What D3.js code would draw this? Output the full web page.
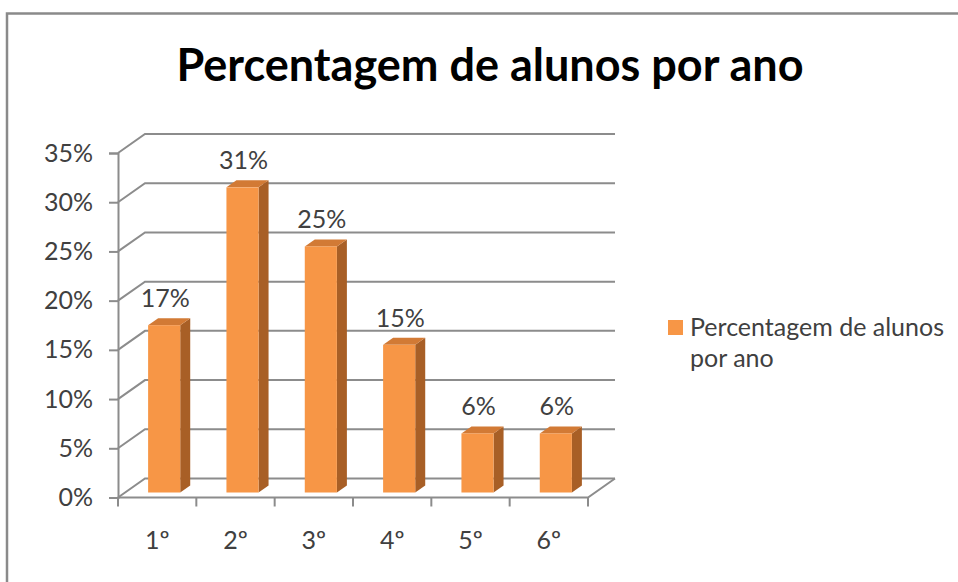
<!DOCTYPE html>
<html>
<head>
<meta charset="utf-8">
<script src="https://cdn.jsdelivr.net/npm/d3@7"></script>
<style>
  html, body { margin: 0; padding: 0; background: #ffffff; }
  svg { display: block; }
  text { font-family: Lato, "Open Sans", sans-serif; fill: #404040; }
</style>
</head>
<body>
<svg id="chart" width="958" height="582"></svg>
<script>
const title = "Percentagem de alunos por ano";
const seriesName = "Percentagem de alunos por ano";
const categories = ["1º", "2º", "3º", "4º", "5º", "6º"];
const values = [0.17, 0.31, 0.25, 0.15, 0.06, 0.06];
const yTicks = [0, 0.05, 0.10, 0.15, 0.20, 0.25, 0.30, 0.35];

const svg = d3.select("#chart");
const W = 958, H = 582;
const FS = 25;

// frame
svg.append("rect").attr("x", 0).attr("y", 0).attr("width", W).attr("height", H).attr("fill", "#ffffff");
svg.append("path")
  .attr("d", `M7,${H} L7,13.5 L${W},13.5`)
  .attr("fill", "none").attr("stroke", "#8a8a8a").attr("stroke-width", 2.5);

// geometry
const x0 = 118, x1 = 588;
const depthX = 27, depthY = -19;      // back wall offset
const barOffX = 7, barOffY = -5;      // bar front offset from floor front
const barDX = 10, barDY = -7;         // bar depth

const x = d3.scaleBand().domain(categories).range([x0, x1]).paddingInner(0.59).paddingOuter(0.295);
const y = d3.scaleLinear().domain([0, 0.35]).range([497.5, 153]);

const grid = svg.append("g").attr("stroke", "#8c8c8c").attr("stroke-width", 2).attr("fill", "none");
yTicks.forEach(t => {
  const yy = y(t);
  grid.append("path")
    .attr("d", `M${x0},${yy} L${x0 + depthX},${yy + depthY} L${x1 + depthX},${yy + depthY}`);
});
grid.append("path").attr("d", `M${x0},${y(0)} L${x1},${y(0)} L${x1 + depthX},${y(0) + depthY}`);

// y axis
const yAxis = d3.axisLeft(y).tickValues(yTicks).tickFormat(d3.format(".0%")).tickSize(9).tickPadding(16);
const gy = svg.append("g").attr("transform", `translate(${x0},0)`).call(yAxis);
gy.select(".domain").attr("stroke", "#8c8c8c").attr("stroke-width", 2);
gy.selectAll(".tick line").attr("stroke", "#8c8c8c").attr("stroke-width", 2);
gy.selectAll(".tick text").attr("font-size", FS).attr("fill", "#404040").style("font-family", "Lato, 'Open Sans', sans-serif");

// x axis labels
const xAxis = d3.axisBottom(x).tickSize(0).tickPadding(34);
const gx = svg.append("g").attr("transform", `translate(0,${y(0)})`).call(xAxis);
gx.select(".domain").remove();
gx.selectAll(".tick text").attr("font-size", FS).attr("fill", "#404040").style("font-family", "Lato, 'Open Sans', sans-serif");
const bounds = d3.range(categories.length + 1).map(i => x0 + i * x.step());
svg.append("g").selectAll("line").data(bounds).join("line")
  .attr("x1", d => d).attr("x2", d => d)
  .attr("y1", y(0)).attr("y2", y(0) + 9)
  .attr("stroke", "#8c8c8c").attr("stroke-width", 2);

// bars
const colFront = "#f79646", colSide = "#a85f26", colTop = "#d27a35";
const bars = svg.append("g");
categories.forEach((c, i) => {
  const v = values[i];
  const bx = x(c) + barOffX, bw = x.bandwidth();
  const yb = y(0) + barOffY, yt = y(v) + barOffY;
  bars.append("path")
    .attr("d", `M${bx + bw},${yb} L${bx + bw + barDX},${yb + barDY} L${bx + bw + barDX},${yt + barDY} L${bx + bw},${yt} Z`)
    .attr("fill", colSide);
  bars.append("path")
    .attr("d", `M${bx},${yt} L${bx + barDX},${yt + barDY} L${bx + bw + barDX},${yt + barDY} L${bx + bw},${yt} Z`)
    .attr("fill", colTop);
  bars.append("rect")
    .attr("x", bx).attr("y", yt).attr("width", bw).attr("height", yb - yt)
    .attr("fill", colFront);
  bars.append("text")
    .attr("x", bx + bw / 2 + 1).attr("y", yt - 18)
    .attr("text-anchor", "middle").attr("font-size", FS)
    .text(d3.format(".0%")(v));
});

// title
svg.append("text")
  .attr("x", 490).attr("y", 81)
  .attr("text-anchor", "middle")
  .attr("font-size", 45).attr("font-weight", "bold").style("fill", "#000")
  .text(title);

// legend
const lg = svg.append("g");
lg.append("rect").attr("x", 668).attr("y", 320).attr("width", 15).attr("height", 15).attr("fill", colFront);
const words = seriesName.split(" ");
lg.append("text").attr("x", 690).attr("y", 336).attr("font-size", FS).text(words.slice(0, 3).join(" "));
lg.append("text").attr("x", 690).attr("y", 367).attr("font-size", FS).text(words.slice(3).join(" "));
</script>
</body>
</html>
